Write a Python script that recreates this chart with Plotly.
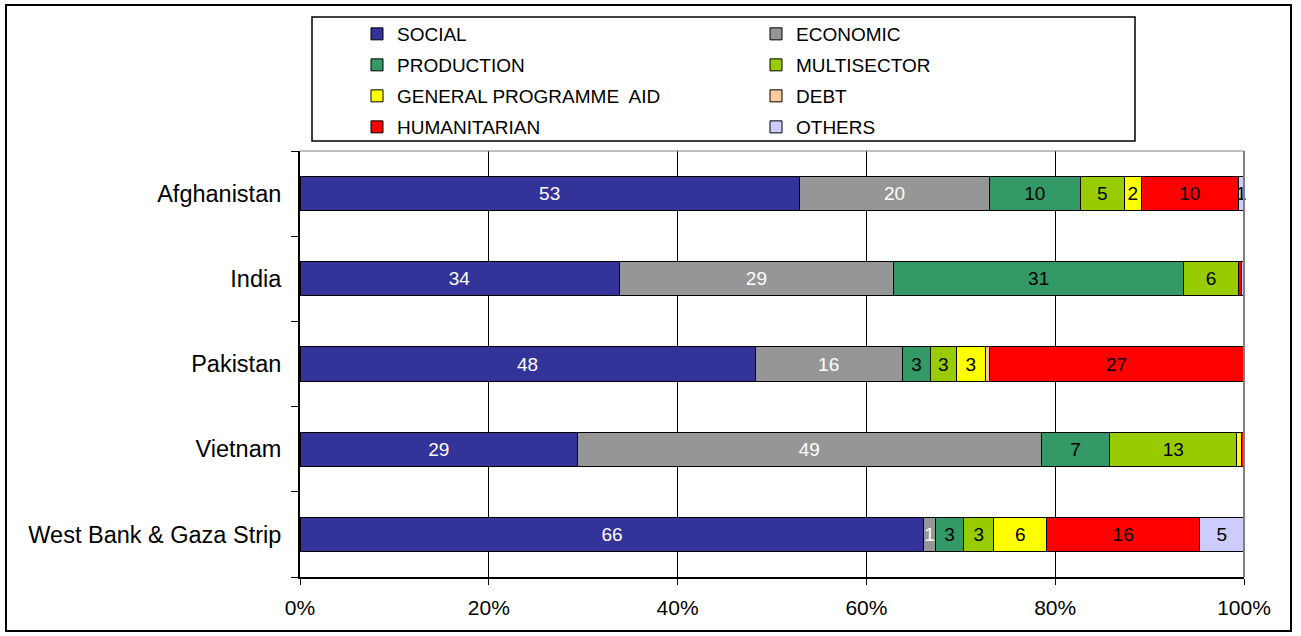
import plotly.graph_objects as go

countries = ["Afghanistan", "India", "Pakistan", "Vietnam", "West Bank & Gaza Strip"]
sectors = ["SOCIAL", "ECONOMIC", "PRODUCTION", "MULTISECTOR",
           "GENERAL PROGRAMME  AID", "DEBT", "HUMANITARIAN", "OTHERS"]

social = [53.0, 33.8, 48.2, 29.4, 66.1]
economic = [20.2, 29.1, 15.6, 49.1, 1.2]
production = [9.6, 30.7, 3.0, 7.3, 3.0]
multisector = [4.7, 5.8, 2.7, 13.4, 3.2]
gpa = [1.8, 0.0, 3.1, 0.5, 5.6]
debt = [0.0, 0.0, 0.4, 0.0, 0.0]
humanitarian = [10.3, 0.3, 27.0, 0.3, 16.2]
others = [0.6, 0.3, 0.0, 0.0, 4.7]

series = [social, economic, production, multisector, gpa, debt, humanitarian, others]
colors = ["#333399", "#969696", "#339966", "#99CC00", "#FFFF00", "#FFCC99", "#FF0000", "#CCCCFF"]
text_colors = ["white", "white", "black", "black", "black", "black", "black", "black"]

FONT = "Liberation Sans, Arial, sans-serif"

# plot area in pixels (figure coords)
L, R, T, B = 300, 1244, 151, 577
W, H = R - L, B - T


def px(x):
    return (x - L) / W


def py(y):
    return (B - y) / H


legend_ids = ["legend", "legend", "legend2", "legend2",
              "legend3", "legend3", "legend4", "legend4"]

fig = go.Figure()
for name, vals, col, tcol, lg in zip(sectors, series, colors, text_colors, legend_ids):
    labels = [f"{v:.0f}" if v >= 0.55 else "" for v in vals]
    fig.add_trace(go.Bar(
        name=name, y=countries, x=vals, orientation="h",
        marker=dict(color=col, line=dict(color="black", width=1)),
        text=labels, textposition="inside", insidetextanchor="middle",
        textangle=0, insidetextfont=dict(color=tcol, size=19, family=FONT),
        cliponaxis=False, legend=lg,
    ))

row_y = [34, 65, 96, 127]
legend_common = dict(
    orientation="h", x=px(357), xanchor="left", yanchor="middle",
    entrywidth=354, entrywidthmode="pixels", itemwidth=30,
    font=dict(size=19, family=FONT), traceorder="normal",
    bgcolor="rgba(0,0,0,0)", itemclick=False, itemdoubleclick=False,
)

fig.update_layout(
    barmode="stack", barnorm="percent",
    width=1301, height=636,
    margin=dict(l=L, r=1301 - R, t=T, b=636 - B),
    paper_bgcolor="white", plot_bgcolor="white",
    font=dict(family=FONT, color="black", size=21),
    bargap=0.6,
    uniformtext=dict(minsize=19, mode="show"),
    showlegend=True,
    legend=dict(y=py(row_y[0]), **legend_common),
    legend2=dict(y=py(row_y[1]), **legend_common),
    legend3=dict(y=py(row_y[2]), **legend_common),
    legend4=dict(y=py(row_y[3]), **legend_common),
    xaxis=dict(
        range=[0, 100], tickvals=[0, 20, 40, 60, 80, 100],
        ticktext=["0%", "20%", "40%", "60%", "80%", "100%"],
        showgrid=True, gridcolor="black", gridwidth=1,
        showline=True, linecolor="black", linewidth=2,
        ticks="outside", ticklen=6, tickcolor="black",
        zeroline=False, tickfont=dict(size=21), ticklabelstandoff=5,
    ),
    yaxis=dict(
        categoryorder="array", categoryarray=countries[::-1],
        showline=True, linecolor="black", linewidth=2,
        ticks="outside", tickson="boundaries", ticklen=7, tickcolor="black",
        showgrid=False, tickfont=dict(size=23.5), ticklabelstandoff=12,
    ),
    shapes=[
        # plot area top/right border
        dict(type="line", xref="paper", yref="paper", x0=0, x1=1, y0=1, y1=1,
             line=dict(color="#808080", width=1)),
        dict(type="line", xref="paper", yref="paper", x0=1, x1=1, y0=0, y1=1,
             line=dict(color="#808080", width=2)),
        # legend box
        dict(type="rect", xref="paper", yref="paper",
             x0=px(312), x1=px(1135), y0=py(141), y1=py(17),
             line=dict(color="black", width=1.5), fillcolor="rgba(0,0,0,0)"),
        # outer chart border
        dict(type="rect", xref="paper", yref="paper",
             x0=px(6), x1=px(1291), y0=py(631), y1=py(5),
             line=dict(color="black", width=2), fillcolor="rgba(0,0,0,0)"),
    ],
)

fig.write_html("out.html", config={"displayModeBar": False},
               post_script="document.body.style.margin='0px';")
